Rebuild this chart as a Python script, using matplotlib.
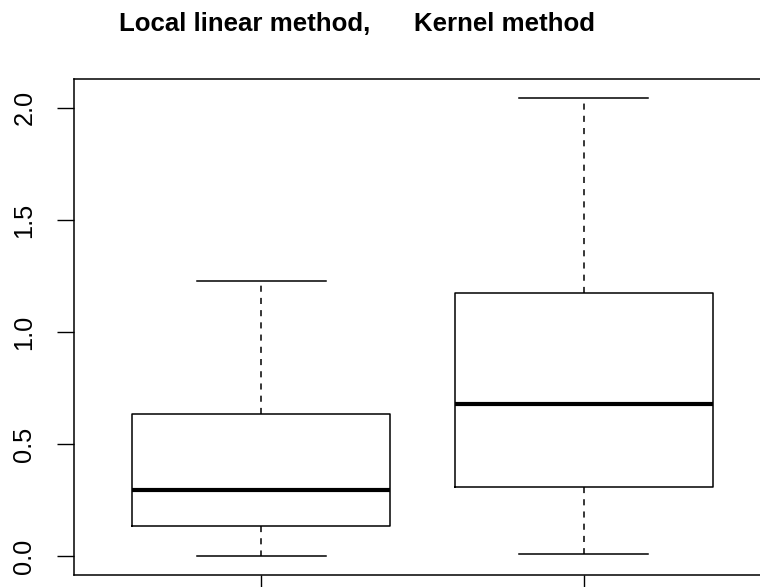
import matplotlib
matplotlib.use("Agg")
import matplotlib.pyplot as plt

plt.rcParams["font.family"] = ["Liberation Sans", "DejaVu Sans"]

# Summary statistics for the two estimators
methods = ["Local linear method", "Kernel method"]
whisker_low = [0.001, 0.012]
q1 = [0.136, 0.310]
median = [0.296, 0.679]
q3 = [0.636, 1.173]
whisker_high = [1.227, 2.045]

stats = []
for i, name in enumerate(methods):
    stats.append({
        "label": name,
        "whislo": whisker_low[i],
        "q1": q1[i],
        "med": median[i],
        "q3": q3[i],
        "whishi": whisker_high[i],
    })

fig = plt.figure(figsize=(7.6, 5.87), dpi=100)
ax = fig.add_axes([74 / 760, 12.3 / 587, (771 - 74) / 760, (574.7 - 79.3) / 587])

ax.bxp(
    stats,
    positions=[1, 2],
    widths=0.8,
    showfliers=False,
    boxprops=dict(color="black", linewidth=1.1),
    medianprops=dict(color="black", linewidth=3.0, solid_capstyle="butt"),
    whiskerprops=dict(color="black", linewidth=1.1, linestyle=(0, (4, 4))),
    capprops=dict(color="black", linewidth=1.1),
    capwidths=0.4,
)

ax.set_xlim(0.42, 2.58)
ax.set_ylim(-0.082, 2.127)
ax.set_xticks([1, 2])
ax.set_xticklabels(["", ""])
ax.set_yticks([0.0, 0.5, 1.0, 1.5, 2.0])
ax.set_yticklabels(["0.0", "0.5", "1.0", "1.5", "2.0"], rotation=90, va="center")
ax.tick_params(axis="both", direction="out", length=12.5, width=1.0, labelsize=18.3, pad=14.5)
for s in ax.spines.values():
    s.set_linewidth(1.1)

fig.text(357 / 760, 1 - 31 / 587, "Local linear method,      Kernel method",
         ha="center", va="baseline", fontsize=18.6, fontweight="bold")

fig.savefig("out.png", dpi=100)
